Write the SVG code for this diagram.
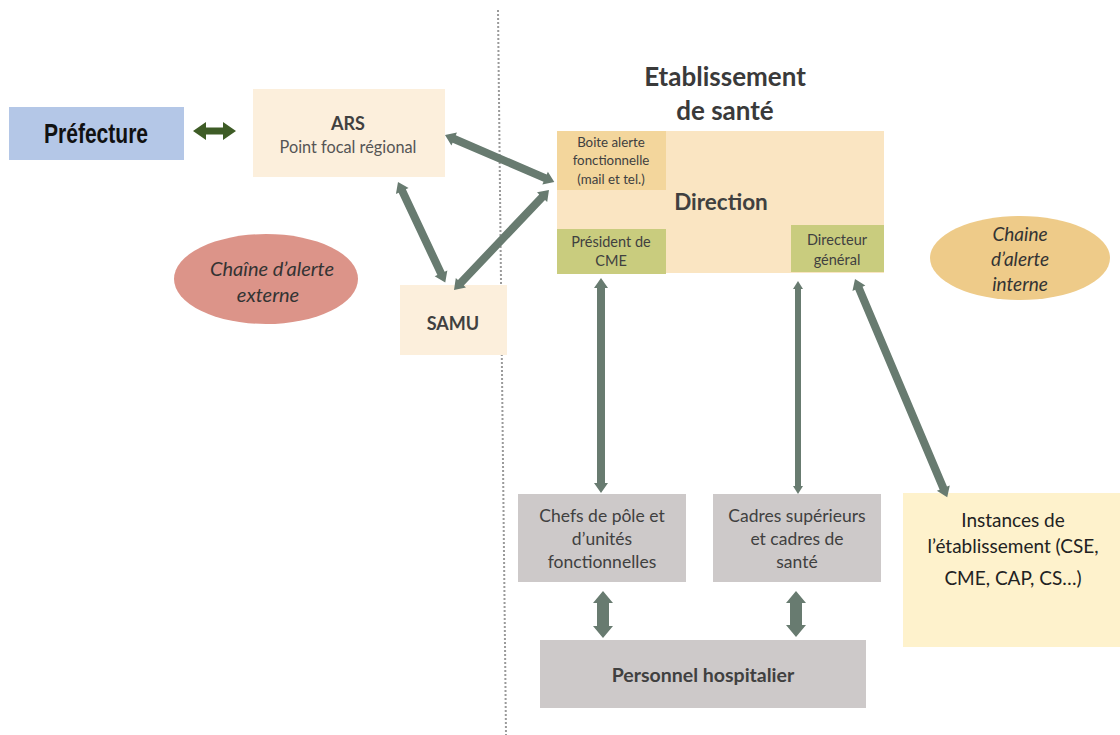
<svg xmlns="http://www.w3.org/2000/svg" width="1120" height="735" viewBox="0 0 1120 735">
  <style>
    text { font-family: Lato, "Open Sans", "Liberation Sans", sans-serif; fill: #404040; text-anchor: middle; }
    .b { font-weight: bold; }
    .i { font-style: italic; }
    .arrow { fill: #687b70; }
    .cream { fill: #fcefdc; }
    .grey { fill: #cdc9c9; }
    .olive { fill: #c9cc7e; }
  </style>

  <rect width="1120" height="735" fill="#ffffff"/>

  <!-- dotted divider between external and internal chains -->
  <line x1="498" y1="10" x2="506" y2="735" stroke="#9a9a9a" stroke-width="2" stroke-dasharray="2 2"/>

  <!-- external chain -->
  <g id="prefecture">
    <rect x="9" y="107" width="175" height="53" fill="#b4c7e7"/>
    <text transform="translate(96,143) scale(0.78,1)" class="b" style="font-family:'Liberation Sans',sans-serif;font-size:27px;fill:#111">Préfecture</text>
  </g>

  <g id="ars">
    <rect x="253" y="89" width="192" height="88" class="cream"/>
    <text x="348" y="130" class="b" style="font-size:18px">ARS</text>
    <text x="348" y="153" style="font-size:16.3px;fill:#555">Point focal régional</text>
  </g>

  <g id="samu">
    <rect x="400" y="285" width="107" height="70" class="cream"/>
    <text x="453" y="330" class="b" style="font-size:18px">SAMU</text>
  </g>

  <g id="chaine-externe">
    <ellipse cx="266" cy="279" rx="92" ry="45" fill="#dc9489"/>
    <text x="272" y="276" class="i" style="font-size:20px;fill:#333">Chaîne d’alerte</text>
    <text x="268" y="302" class="i" style="font-size:20px;fill:#333">externe</text>
  </g>

  <!-- health establishment -->
  <g id="titre">
    <text x="725" y="86" class="b" style="font-size:26px;fill:#3a3a3a">Etablissement</text>
    <text x="725" y="120" class="b" style="font-size:26px;fill:#3a3a3a">de santé</text>
  </g>

  <g id="direction">
    <rect x="557" y="131" width="327" height="142" fill="#fae5c2"/>
    <text x="721" y="210" class="b" style="font-size:22.5px">Direction</text>
  </g>

  <g id="boite-alerte">
    <rect x="557" y="131" width="109" height="59" fill="#f3d69c"/>
    <text x="611" y="147" style="font-size:13.3px">Boite alerte</text>
    <text x="611" y="165" style="font-size:13.3px">fonctionnelle</text>
    <text x="611" y="184" style="font-size:13.3px">(mail et tel.)</text>
  </g>

  <g id="president-cme">
    <rect x="557" y="229" width="109" height="45" class="olive"/>
    <text x="611" y="247" style="font-size:14.5px">Président de</text>
    <text x="611" y="266" style="font-size:14.5px">CME</text>
  </g>

  <g id="directeur-general">
    <rect x="791" y="225" width="93" height="47" class="olive"/>
    <text x="837" y="245" style="font-size:14.5px">Directeur</text>
    <text x="837" y="265" style="font-size:14.5px">général</text>
  </g>

  <g id="chaine-interne">
    <ellipse cx="1020" cy="258" rx="90" ry="42" fill="#eecb89"/>
    <text x="1020" y="241" class="i" style="font-size:19px;fill:#333">Chaine</text>
    <text x="1020" y="266" class="i" style="font-size:19px;fill:#333">d’alerte</text>
    <text x="1020" y="291" class="i" style="font-size:19px;fill:#333">interne</text>
  </g>

  <g id="chefs-pole">
    <rect x="518" y="494" width="168" height="88" class="grey"/>
    <text x="602" y="522" style="font-size:17.5px">Chefs de pôle et</text>
    <text x="602" y="545" style="font-size:17.5px">d’unités</text>
    <text x="602" y="568" style="font-size:17.5px">fonctionnelles</text>
  </g>

  <g id="cadres">
    <rect x="713" y="494" width="168" height="88" class="grey"/>
    <text x="797" y="522" style="font-size:17.5px">Cadres supérieurs</text>
    <text x="797" y="545" style="font-size:17.5px">et cadres de</text>
    <text x="797" y="568" style="font-size:17.5px">santé</text>
  </g>

  <g id="personnel">
    <rect x="540" y="640" width="326" height="68" class="grey"/>
    <text x="703" y="682" class="b" style="font-size:19.5px">Personnel hospitalier</text>
  </g>

  <g id="instances">
    <rect x="903" y="493" width="217" height="154" fill="#fef2cc"/>
    <text x="1013" y="527" style="font-size:19px;fill:#222">Instances de</text>
    <text x="1013" y="553" style="font-size:19px;fill:#222">l’établissement (CSE,</text>
    <text x="1013" y="585" style="font-size:19px;fill:#222">CME, CAP, CS…)</text>
  </g>

  <!-- connectors: double-headed block arrows, drawn along +x then placed -->
  <g id="connecteurs">
    <!-- Préfecture <-> ARS -->
    <polygon fill="#3e5c26" transform="translate(193,131)" points="0,0 13,-9 13,-3.5 30,-3.5 30,-9 43,0 30,9 30,3.5 13,3.5 13,9"/>
    <!-- ARS <-> Direction, L=119 -->
    <polygon class="arrow" transform="translate(445,135) rotate(23.3)" points="0,0 10,-7 10,-4 109,-4 109,-7 119,0 109,7 109,4 10,4 10,7"/>
    <!-- SAMU <-> Direction, L=138 -->
    <polygon class="arrow" transform="translate(454,290) rotate(-46.5)" points="0,0 10,-7 10,-4 128,-4 128,-7 138,0 128,7 128,4 10,4 10,7"/>
    <!-- ARS <-> SAMU, L=111 -->
    <polygon class="arrow" transform="translate(398,182) rotate(64.8)" points="0,0 10,-7 10,-4 101,-4 101,-7 111,0 101,7 101,4 10,4 10,7"/>
    <!-- Président de CME <-> Chefs de pôle, L=215 -->
    <polygon class="arrow" transform="translate(601,278) rotate(90)" points="0,0 10,-7 10,-4 205,-4 205,-7 215,0 205,7 205,4 10,4 10,7"/>
    <!-- Direction <-> Cadres, L=213 -->
    <polygon class="arrow" transform="translate(798,281) rotate(90)" points="0,0 8,-5 8,-3 205,-3 205,-5 213,0 205,5 205,3 8,3 8,5"/>
    <!-- Directeur général <-> Instances, L=237 -->
    <polygon class="arrow" transform="translate(855,279) rotate(67.1)" points="0,0 10,-7 10,-4 227,-4 227,-7 237,0 227,7 227,4 10,4 10,7"/>
    <!-- Chefs de pôle <-> Personnel, L=47 -->
    <polygon class="arrow" transform="translate(603,591) rotate(90)" points="0,0 12,-10 12,-6 35,-6 35,-10 47,0 35,10 35,6 12,6 12,10"/>
    <!-- Cadres <-> Personnel, L=46 -->
    <polygon class="arrow" transform="translate(796,591) rotate(90)" points="0,0 12,-10 12,-6 34,-6 34,-10 46,0 34,10 34,6 12,6 12,10"/>
  </g>
</svg>
